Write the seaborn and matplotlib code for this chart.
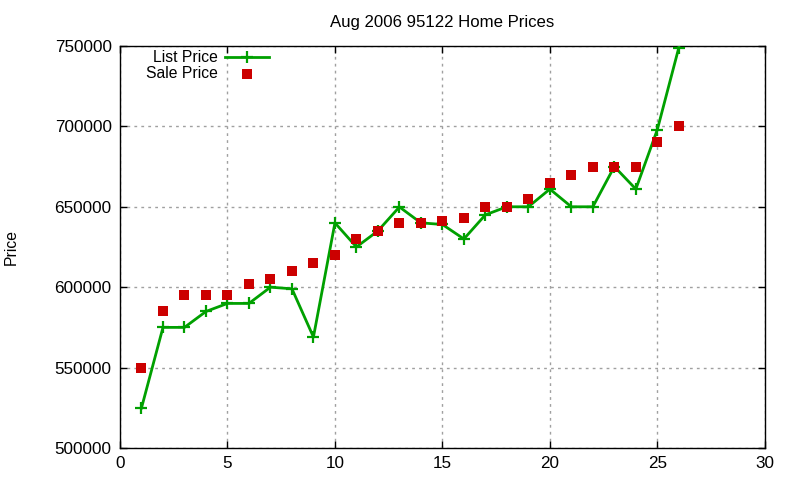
import seaborn as sns
import matplotlib.pyplot as plt
import pandas as pd

# datos
num_casa = list(range(1, 27))
precio_lista = [524900, 575000, 575000, 584900, 589900, 589900, 600000, 599000, 569000,
                640000, 625000, 635000, 649900, 640000, 639000, 630000, 645000, 650000,
                650000, 661000, 650000, 650000, 675000, 661000, 698000, 749000]
precio_venta = [550000, 585000, 595000, 595000, 595000, 602000, 605000, 610000, 615000,
                620000, 630000, 635000, 640000, 640000, 641000, 643000, 650000, 650000,
                655000, 665000, 670000, 675000, 675000, 675000, 690000, 700000]
x_ticks = [0, 5, 10, 15, 20, 25, 30]
y_ticks = [500000, 550000, 600000, 650000, 700000, 750000]

df = pd.DataFrame({'n': num_casa, 'lista': precio_lista, 'venta': precio_venta})

plt.rcParams['font.family'] = ['Liberation Sans', 'DejaVu Sans']
plt.rcParams['font.size'] = 11

fig = plt.figure(figsize=(8, 4.8), dpi=100)
ax = fig.add_axes([0.15, 0.0667, 0.806, 0.8375])

sns.lineplot(data=df, x='n', y='lista', ax=ax, color='#00a000', linewidth=2,
             marker='+', markersize=9, markeredgewidth=1.6, markeredgecolor='#00a000',
             label='List Price', zorder=3)
sns.scatterplot(data=df, x='n', y='venta', ax=ax, color='#cc0000', marker='s',
                s=45, linewidth=0, label='Sale Price', zorder=4)

ax.set_xlim(0, 30)
ax.set_ylim(500000, 750000)
ax.set_xticks(x_ticks)
ax.set_yticks(y_ticks)
ax.set_xticklabels([str(t) for t in x_ticks])
ax.set_yticklabels([str(t) for t in y_ticks])
ax.tick_params(direction='in', length=5, width=1, top=True, right=True, labelsize=12.3, pad=6)
ax.grid(True, color='#a0a0a0', linestyle=(0, (2, 3)), linewidth=1)
for s in ax.spines.values():
    s.set_linewidth(1)

ax.set_xlabel('')
ax.set_ylabel('Price', fontsize=11.3)
ax.yaxis.set_label_coords(-0.157, 0.5)
ax.set_title('Aug 2006 95122 Home Prices', fontsize=12.1, pad=14)

ax.legend(loc='upper right', bbox_to_anchor=(0.3485, 0.915), bbox_transform=fig.transFigure,
          frameon=False, markerfirst=False, handlelength=2.8, handletextpad=0.5,
          borderpad=0.1, labelspacing=0.05, fontsize=11.3)

fig.savefig('out.png', dpi=100)
